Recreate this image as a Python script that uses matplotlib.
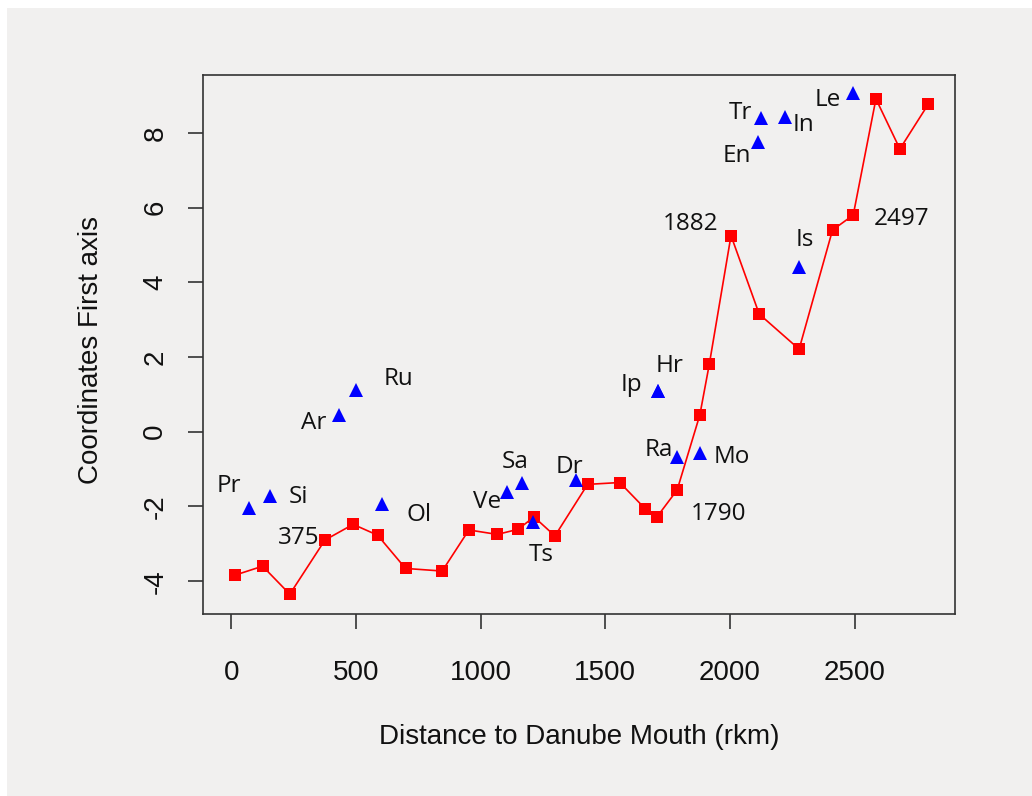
import matplotlib.pyplot as plt
from matplotlib.patches import Rectangle

plt.rcParams["axes.unicode_minus"] = False

# red series: distance to mouth (rkm) and first axis score
rkm = [15, 126, 235, 376, 489, 587, 699, 846, 953, 1067, 1151, 1214, 1298, 1429,
       1558, 1661, 1706, 1788, 1879, 1917, 2004, 2117, 2277, 2411, 2494, 2585, 2681, 2795]
score = [-3.84, -3.60, -4.35, -2.90, -2.48, -2.77, -3.66, -3.73, -2.63, -2.75, -2.61, -2.28, -2.79, -1.41,
         -1.36, -2.07, -2.29, -1.56, 0.45, 1.81, 5.25, 3.15, 2.21, 5.40, 5.80, 8.91, 7.57, 8.77]

# labelled red points (index into rkm) and their text
red_lab_idx = [3, 17, 20, 24]
red_lab_txt = ["375", "1790", "1882", "2497"]
red_lab_off = [(-26, 2), (41, -24), (-40, 12), (48, -4)]

# blue triangles (sites)
site_names = ["Pr", "Si", "Ar", "Ru", "Ol", "Ve", "Sa", "Ts", "Dr", "Hr", "Ip",
              "Ra", "Mo", "Tr", "In", "En", "Le", "Is"]
site_x = [72, 155, 433, 500, 606, 1104, 1167, 1211, 1381, 1710, 1710,
          1786, 1879, 2124, 2220, 2111, 2492, 2277]
site_y = [-2.05, -1.72, 0.45, 1.12, -1.94, -1.61, -1.36, -2.43, -1.28, 1.10, 1.10,
          -0.67, -0.56, 8.39, 8.43, 7.75, 9.06, 4.40]
site_off = [(-20, 22), (29, -1), (-25, -8), (43, 11), (37, -11), (-19, -10), (-7, 21),
            (8, -33), (-6, 13), (12, 25), (-26, 6), (-18, 7), (32, -4), (-21, 5),
            (19, -8), (-21, -14), (-25, -7), (6, 27)]

bg = "#f1f0ef"
fig = plt.figure(figsize=(10.32, 7.96), dpi=100, facecolor="white")
fig.patches.append(Rectangle((7 / 1032, 0), 1, 1 - 8 / 796, transform=fig.transFigure,
                             facecolor=bg, edgecolor="none", zorder=-10))

ax = fig.add_axes([203 / 1032, 1 - 614 / 796, (955 - 203) / 1032, (614 - 75) / 796])
ax.set_facecolor(bg)

ax.plot(rkm, score, color="red", linewidth=1.2, marker="s", markersize=8.4,
        markeredgewidth=0, zorder=3)
ax.plot(site_x, site_y, linestyle="none", marker="^", markersize=10.5,
        color="blue", markeredgewidth=0, zorder=3)

lab_font = dict(family="Open Sans", fontsize=17.5, color="#111111")
for name, x, y, off in zip(site_names, site_x, site_y, site_off):
    ax.annotate(name, (x, y), xytext=off, textcoords="offset pixels",
                ha="center", va="center", **lab_font)
for i, txt, off in zip(red_lab_idx, red_lab_txt, red_lab_off):
    ax.annotate(txt, (rkm[i], score[i]), xytext=off, textcoords="offset pixels",
                ha="center", va="center", **lab_font)

ax.set_xlim(-113, 2902)
ax.set_ylim(-4.88, 9.55)
ax.set_xticks([0, 500, 1000, 1500, 2000, 2500])
ax.set_yticks([-4, -2, 0, 2, 4, 6, 8])

for s in ax.spines.values():
    s.set_color("#333333")
    s.set_linewidth(1.2)

ax.tick_params(axis="both", length=11, width=1.2, color="#333333",
               labelsize=20, labelcolor="#111111")
ax.tick_params(axis="x", pad=22)
ax.tick_params(axis="y", pad=14)
for lbl in ax.get_xticklabels() + ax.get_yticklabels():
    lbl.set_family("Liberation Sans")
for lbl in ax.get_yticklabels():
    lbl.set_rotation(90)
    lbl.set_va("center")

fig.text((203 + 955) / 2 / 1032, 1 - 737 / 796, "Distance to Danube Mouth (rkm)",
         ha="center", va="center", fontsize=20, family="Liberation Sans", color="#111111")
fig.text(91 / 1032, 1 - 350 / 796, "Coordinates First axis", rotation=90,
         ha="center", va="center", fontsize=20, family="Liberation Sans", color="#111111")

fig.savefig("out.png", dpi=100, facecolor="white")
